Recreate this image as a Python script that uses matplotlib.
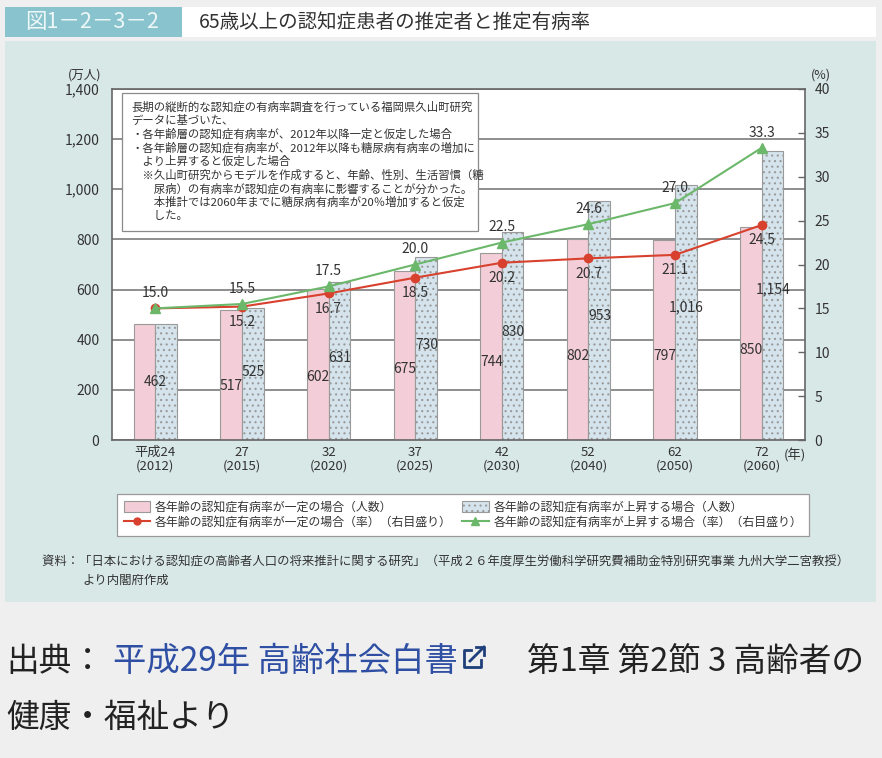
import numpy as np
import matplotlib
matplotlib.use('Agg')
import matplotlib.pyplot as plt
from matplotlib.patches import Rectangle, Patch
from matplotlib.lines import Line2D

plt.rcParams['font.family'] = ['Noto Sans CJK JP', 'DejaVu Sans']
plt.rcParams['hatch.color'] = '#9bb2c0'
plt.rcParams['hatch.linewidth'] = 0.8

# data
years_jp = ['平成24', '27', '32', '37', '42', '52', '62', '72']
years = ['2012', '2015', '2020', '2025', '2030', '2040', '2050', '2060']
count_const = [462, 517, 602, 675, 744, 802, 797, 850]      # 万人
count_rise = [462, 525, 631, 730, 830, 953, 1016, 1154]     # 万人
rate_const = [15.0, 15.2, 16.7, 18.5, 20.2, 20.7, 21.1, 24.5]  # %
rate_rise = [15.0, 15.5, 17.5, 20.0, 22.5, 24.6, 27.0, 33.3]   # %

legend_labels = ['各年齢の認知症有病率が一定の場合（人数）',
                 '各年齢の認知症有病率が一定の場合（率）（右目盛り）',
                 '各年齢の認知症有病率が上昇する場合（人数）',
                 '各年齢の認知症有病率が上昇する場合（率）（右目盛り）']

note_lines = ['長期の縦断的な認知症の有病率調査を行っている福岡県久山町研究',
              'データに基づいた、',
              '・各年齢層の認知症有病率が、2012年以降一定と仮定した場合',
              '・各年齢層の認知症有病率が、2012年以降も糖尿病有病率の増加に',
              '　より上昇すると仮定した場合',
              '　※久山町研究からモデルを作成すると、年齢、性別、生活習慣（糖',
              '　　尿病）の有病率が認知症の有病率に影響することが分かった。',
              '　　本推計では2060年までに糖尿病有病率が20％増加すると仮定',
              '　　した。']

PINK = '#f3cdd7'
BLUE = '#d5e4ec'
RED = '#d8412d'
GREEN = '#6cb86b'
TXT = '#333333'

W, H = 882, 758


def fx(x):
    return x / W


def fy(y):
    return 1 - y / H


fig = plt.figure(figsize=(W / 100, H / 100), dpi=100)
fig.patch.set_facecolor('#efefef')

# header + panel background
fig.add_artist(Rectangle((fx(5), fy(37)), 177 / W, 30 / H, transform=fig.transFigure,
                         fc='#89c3cd', ec='none', zorder=-2))
fig.add_artist(Rectangle((fx(182), fy(37)), 694 / W, 30 / H, transform=fig.transFigure,
                         fc='white', ec='none', zorder=-2))
fig.add_artist(Rectangle((fx(5), fy(602)), 871 / W, 561 / H, transform=fig.transFigure,
                         fc='#d8e8e6', ec='none', zorder=-2))
fig.text(fx(25), fy(22), '図1－2－3－2', color='#eef7f8', fontsize=15.5, va='center')
fig.text(fx(199), fy(22), '65歳以上の認知症患者の推定者と推定有病率', color=TXT,
         fontsize=14, va='center')

ax = fig.add_axes([fx(112), fy(440), 693 / W, 351 / H])
ax.set_facecolor('white')
x = np.arange(len(years))
w = 0.25
ax.bar(x - w / 2, count_const, w, color=PINK, edgecolor='#9a9a9a', lw=0.8)
ax.bar(x + w / 2, count_rise, w, color=BLUE, edgecolor='#9a9a9a', lw=0.8, hatch='...')
ax.set_xlim(-0.5, len(years) - 0.5)
ax.set_ylim(0, 1400)
ax.set_yticks(np.arange(0, 1401, 200))
ax.set_yticklabels([f'{v:,}' for v in range(0, 1401, 200)])
ax.yaxis.grid(True, color='#707070', lw=1.1)
ax.set_axisbelow(True)
ax.set_xticks(x)
ax.set_xticklabels([f'{a}\n({b})' for a, b in zip(years_jp, years)], linespacing=1.1)
ax.tick_params(axis='y', length=0, pad=9, labelsize=10, labelcolor=TXT)
ax.tick_params(axis='x', length=0, pad=4, labelsize=9.5, labelcolor=TXT)
for s in ax.spines.values():
    s.set_color('#666666')
    s.set_linewidth(1.2)

for i, (a, b) in enumerate(zip(count_const, count_rise)):
    if a == b:
        ax.text(i, a * 0.5, f'{a:,}', ha='center', va='center', fontsize=10, color=TXT)
    else:
        ax.text(i - 0.12, a * 0.42, f'{a:,}', ha='center', va='center', fontsize=10, color=TXT)
        ax.text(i + 0.13, b * 0.52, f'{b:,}', ha='center', va='center', fontsize=10, color=TXT)

ax2 = ax.twinx()
ax2.set_ylim(0, 40)
ax2.set_yticks(np.arange(0, 41, 5))
ax2.tick_params(axis='y', direction='in', length=5, width=1, color='#666666',
                pad=7, labelsize=10, labelcolor=TXT)
for s in ax2.spines.values():
    s.set_visible(False)
ax2.plot(x, rate_const, color=RED, marker='o', ms=6, lw=1.5)
ax2.plot(x, rate_rise, color=GREEN, marker='^', ms=7, lw=1.5)
for i, (a, b) in enumerate(zip(rate_const, rate_rise)):
    ax2.annotate(f'{b:.1f}', (i, b), xytext=(0, 11), textcoords='offset points',
                 ha='center', va='center', fontsize=10, color=TXT)
    if a != b:
        ax2.annotate(f'{a:.1f}', (i, a), xytext=(0, -11), textcoords='offset points',
                     ha='center', va='center', fontsize=10, color=TXT)

fig.text(fx(85), fy(75), '(万人)', ha='center', va='center', fontsize=9, color=TXT)
fig.text(fx(821), fy(75), '(%)', ha='center', va='center', fontsize=9, color=TXT)
fig.text(fx(795), fy(455), '(年)', ha='center', va='center', fontsize=9.5, color=TXT)

# note box
fig.add_artist(Rectangle((fx(122), fy(231)), 356 / W, 138 / H, transform=fig.transFigure,
                         fc='white', ec='#8a8a8a', lw=0.9, zorder=2))
for k, line in enumerate(note_lines):
    fig.text(fx(131), fy(107 + k * 13.6), line, fontsize=8.2, color=TXT, va='center', zorder=3)

# legend
handles = [Patch(fc=PINK, ec='#9a9a9a', lw=0.8),
           Line2D([], [], color=RED, marker='o', ms=5, lw=1.5),
           Patch(fc=BLUE, ec='#9a9a9a', lw=0.8, hatch='...'),
           Line2D([], [], color=GREEN, marker='^', ms=6, lw=1.5)]
leg = fig.legend(handles, legend_labels, ncol=2, loc='upper left',
                 bbox_to_anchor=(fx(111), fy(488)), frameon=True, fancybox=False,
                 framealpha=1, edgecolor='#999999', fontsize=8.6, handlelength=2.2,
                 handleheight=1.1, columnspacing=0.9, borderpad=0.55, labelspacing=0.2,
                 handletextpad=0.4)
leg.get_frame().set_linewidth(0.9)
for t in leg.get_texts():
    t.set_color(TXT)

fig.text(fx(42), fy(562),
         '資料：「日本における認知症の高齢者人口の将来推計に関する研究」'
         '（平成２６年度厚生労働科学研究費補助金特別研究事業 九州大学二宮教授）',
         fontsize=8.9, color=TXT, va='center')
fig.text(fx(82), fy(580), 'より内閣府作成', fontsize=8.9, color=TXT, va='center')

# source line below the panel
fig.text(fx(6), fy(662), '出典：', fontsize=23.5, color='#222222', va='center')
fig.text(fx(113), fy(662), '平成29年 高齢社会白書', fontsize=24, color='#2e4fa3', va='center')
icon_c = '#1f3f7a'
fig.add_artist(Line2D([fx(471), fx(464), fx(464), fx(481), fx(481)],
                      [fy(650), fy(650), fy(667), fy(667), fy(660)],
                      transform=fig.transFigure, color=icon_c, lw=2))
fig.add_artist(Line2D([fx(470), fx(484)], [fy(661), fy(647)],
                      transform=fig.transFigure, color=icon_c, lw=2))
fig.add_artist(Line2D([fx(476), fx(484), fx(484)], [fy(647), fy(647), fy(655)],
                      transform=fig.transFigure, color=icon_c, lw=2))
fig.text(fx(527), fy(662), '第1章 第2節 3 高齢者の', fontsize=23.5, color='#222222', va='center')
fig.text(fx(6), fy(718), '健康・福祉より', fontsize=23.5, color='#222222', va='center')

fig.savefig('out.png', dpi=100, facecolor=fig.get_facecolor())
